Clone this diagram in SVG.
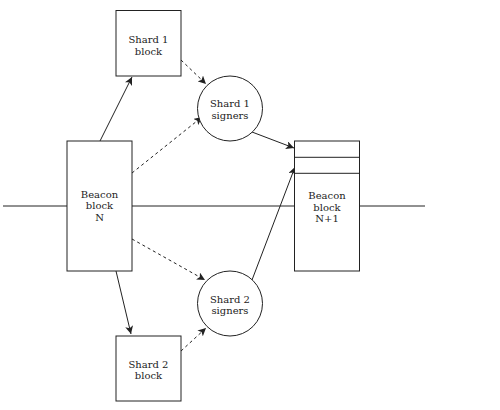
<svg xmlns="http://www.w3.org/2000/svg" width="500" height="410" viewBox="0 0 500 410">
<style>
.box{fill:#fff;stroke:#222;stroke-width:1}
.ln{fill:none;stroke:#222;stroke-width:1}
.dash{stroke-dasharray:3,3}
text{font-family:"DejaVu Serif",serif;font-size:10px;fill:#222;text-anchor:middle}
</style>
<defs>
<marker id="arr" markerUnits="userSpaceOnUse" markerWidth="9" markerHeight="8" refX="8" refY="4" orient="auto">
<path d="M0,0 L8,4 L0,8 L2,4 z" fill="#222"/>
</marker>
</defs>
<rect width="500" height="410" fill="#fff"/>
<g id="chain">
<line class="ln" x1="3" y1="206" x2="425" y2="206"/>
</g>
<g id="connectors">
<line class="ln" x1="100" y1="141" x2="132" y2="77" marker-end="url(#arr)"/>
<line class="ln dash" x1="181" y1="60" x2="206" y2="84" marker-end="url(#arr)"/>
<line class="ln dash" x1="132" y1="173" x2="202" y2="117" marker-end="url(#arr)"/>
<line class="ln" x1="252" y1="132" x2="294" y2="148" marker-end="url(#arr)"/>
<line class="ln dash" x1="132" y1="239" x2="205" y2="280" marker-end="url(#arr)"/>
<line class="ln" x1="252" y1="280" x2="295" y2="167" marker-end="url(#arr)"/>
<line class="ln" x1="116" y1="271" x2="131" y2="334" marker-end="url(#arr)"/>
<line class="ln dash" x1="181" y1="351" x2="206" y2="328" marker-end="url(#arr)"/>
</g>
<g id="shard1block">
<rect class="box" x="116" y="10.5" width="65" height="65.5"/>
<text x="148.5" y="43">Shard 1</text>
<text x="148.5" y="54.7">block</text>
</g>
<g id="shard1signers">
<circle class="box" cx="230" cy="108.5" r="32.5"/>
<text x="230" y="107">Shard 1</text>
<text x="230" y="118.7">signers</text>
</g>
<g id="beaconN">
<rect class="box" x="67" y="141" width="65" height="130"/>
<text x="99.5" y="197.5">Beacon</text>
<text x="99.5" y="209.2">block</text>
<text x="99.5" y="220.9">N</text>
</g>
<g id="beaconN1">
<rect class="box" x="294.5" y="141" width="65" height="130"/>
<line class="ln" x1="294.5" y1="157.3" x2="359.5" y2="157.3"/>
<line class="ln" x1="294.5" y1="173.3" x2="359.5" y2="173.3"/>
<text x="327" y="199">Beacon</text>
<text x="327" y="210.7">block</text>
<text x="327" y="222.4">N+1</text>
</g>
<g id="shard2signers">
<circle class="box" cx="230" cy="303.5" r="32.5"/>
<text x="230" y="302.5">Shard 2</text>
<text x="230" y="314.2">signers</text>
</g>
<g id="shard2block">
<rect class="box" x="116" y="336" width="65" height="65"/>
<text x="148.5" y="367.5">Shard 2</text>
<text x="148.5" y="379.2">block</text>
</g>
</svg>
